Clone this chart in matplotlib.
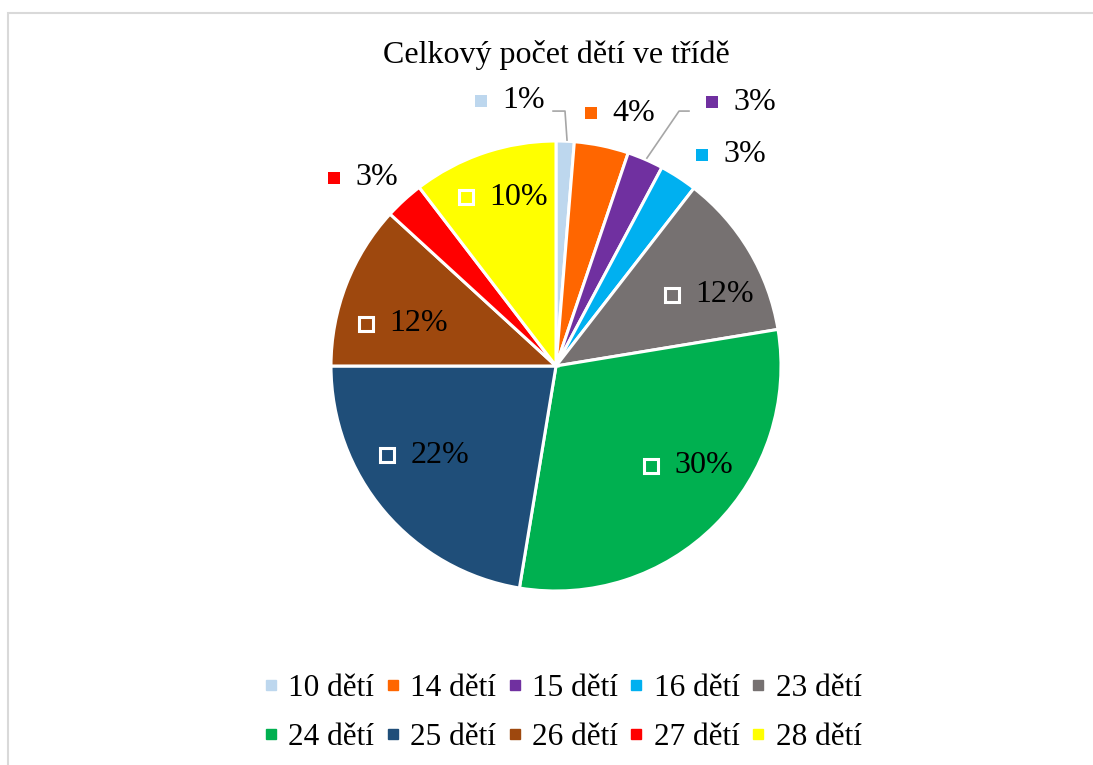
import matplotlib.pyplot as plt
from matplotlib.lines import Line2D
from matplotlib.patches import Rectangle

plt.rcParams['font.family'] = ['Liberation Serif', 'DejaVu Serif']

title = 'Celkový počet dětí ve třídě'
categories = ['10 dětí', '14 dětí', '15 dětí', '16 dětí', '23 dětí',
              '24 dětí', '25 dětí', '26 dětí', '27 dětí', '28 dětí']
shares = [1.3, 3.9, 2.6, 2.7, 11.9, 30.2, 22.4, 11.8, 2.8, 10.4]
colors = ['#bdd7ee', '#ff6600', '#7030a0', '#00b0f0', '#767171',
          '#00b050', '#1f4e79', '#9e480e', '#ff0000', '#ffff00']

# label key position (in pie radius units) and whether the label sits inside
label_pos = [(-0.333, 1.178), (0.156, 1.124), (0.693, 1.173), (0.649, 0.938),
             (0.516, 0.316), (0.422, -0.444), (-0.751, -0.396), (-0.844, 0.187),
             (-0.987, 0.836), (-0.400, 0.751)]
inside = [False, False, False, False, True, True, True, True, False, True]
leaders = {0: [(-0.013, 1.133), (0.04, 1.133), (0.049, 1.004)],
           2: [(0.591, 1.133), (0.547, 1.133), (0.404, 0.924)]}

W, H = 1093, 765
fig = plt.figure(figsize=(W / 100, H / 100), dpi=100)

# chart border (left and top only visible)
fig.add_artist(Rectangle((8 / W, -0.1), 1.2, (H - 13) / H + 0.1,
                         transform=fig.transFigure, fill=False,
                         edgecolor='#d9d9d9', linewidth=1.5, clip_on=False))

cx, cy, r = 556, 366, 225
ax = fig.add_axes([(cx - r) / W, (H - cy - r) / H, 2 * r / W, 2 * r / H])
wedges, _ = ax.pie(shares, colors=colors, startangle=90, counterclock=False,
                   radius=1, wedgeprops=dict(edgecolor='white', linewidth=2.2))
ax.set_xlim(-1, 1)
ax.set_ylim(-1, 1)
ax.axis('off')

total = sum(shares)
for i, v in enumerate(shares):
    mx, my = label_pos[i]
    pct = f'{round(100 * v / total)}%'
    if inside[i]:
        ax.plot(mx, my, marker='s', markersize=10.5, markerfacecolor=colors[i],
                markeredgecolor='white', markeredgewidth=2.2, clip_on=False)
        tx = mx + 0.105
    else:
        ax.plot(mx, my, marker='s', markersize=8.5, markerfacecolor=colors[i],
                markeredgecolor=colors[i], markeredgewidth=0, clip_on=False)
        tx = mx + 0.095
    ax.text(tx, my, pct, fontsize=23, ha='left', va='center', color='black')

for pts in leaders.values():
    xs, ys = zip(*pts)
    ax.plot(xs, ys, color='#a6a6a6', linewidth=1.2, clip_on=False)

fig.text(cx / W, 1 - 55 / H, title, fontsize=23, ha='center', va='center')

# legend fills column by column, so interleave to get row order
order = [0, 5, 1, 6, 2, 7, 3, 8, 4, 9]
handles = [Line2D([], [], marker='s', linestyle='none', markersize=7.5,
                  markerfacecolor=colors[i], markeredgecolor=colors[i]) for i in order]
fig.legend(handles, [categories[i] for i in order], loc='center',
           bbox_to_anchor=(563 / W, 1 - 713 / H),
           ncol=5, frameon=False, fontsize=22.5, handlelength=0.4,
           handletextpad=0.35, columnspacing=0.4, labelspacing=0.62,
           borderpad=0)

fig.savefig('out.png', dpi=100)
